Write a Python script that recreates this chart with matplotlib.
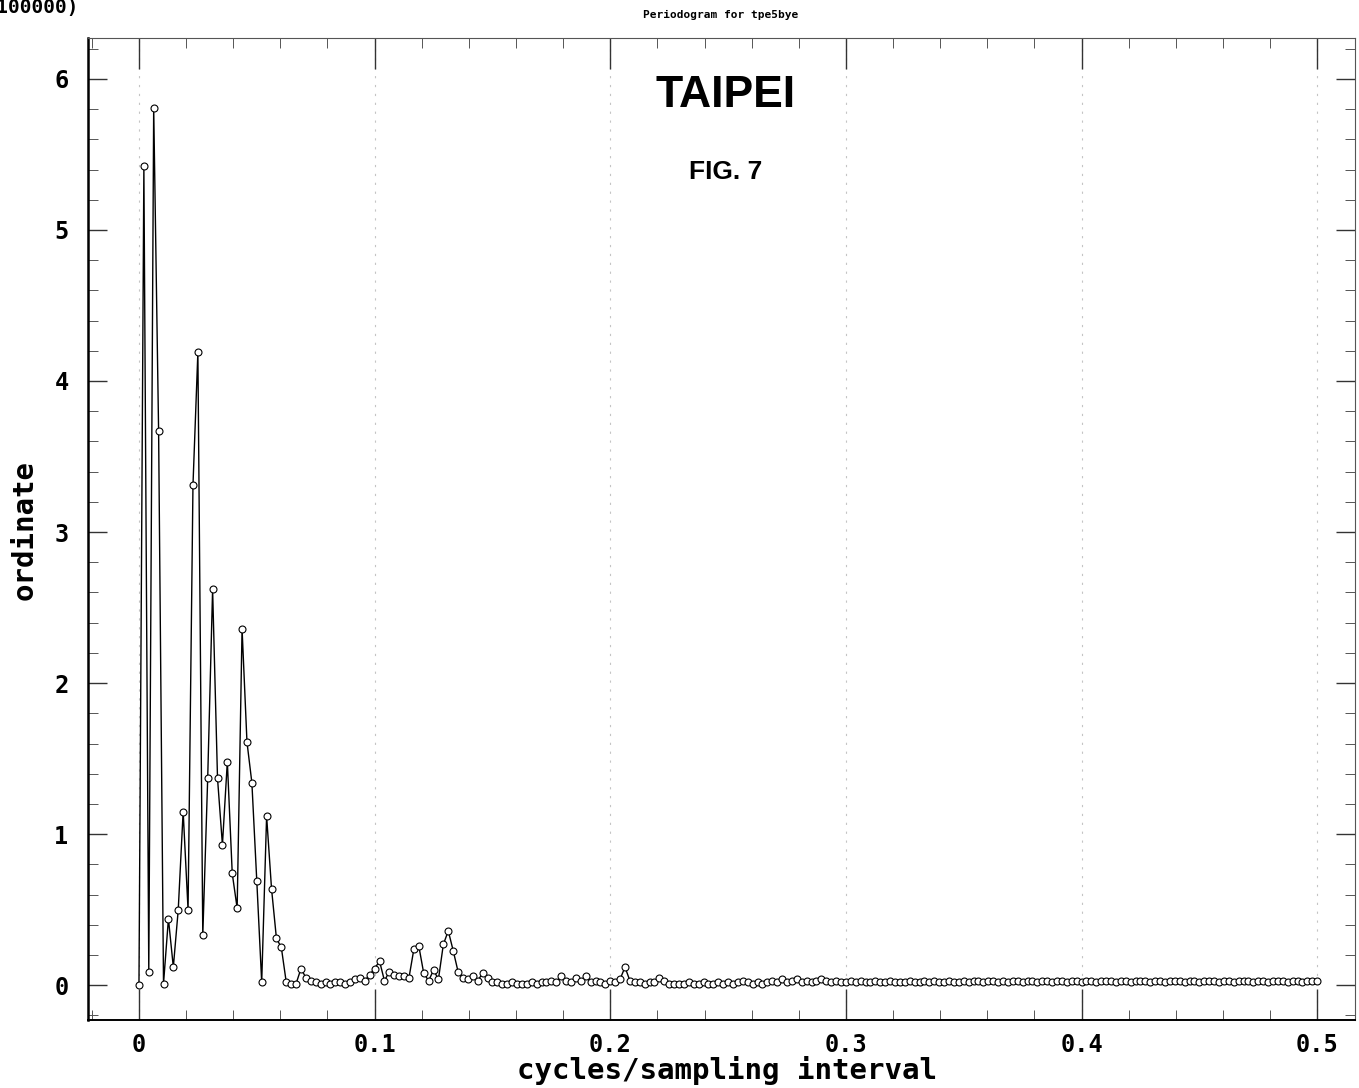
import numpy as np
import matplotlib
matplotlib.use("Agg")
import matplotlib.pyplot as plt
from matplotlib.ticker import MultipleLocator

# periodogram ordinates (x 10000), frequencies k/480, k = 0..240
n_obs = 480
ordinate = [
    0.00, 5.42, 0.09, 5.81, 3.67, 0.01, 0.44, 0.12, 0.50, 1.15,
    0.50, 3.31, 4.19, 0.33, 1.37, 2.62, 1.37, 0.93, 1.48, 0.74,
    0.51, 2.36, 1.61, 1.34, 0.69, 0.02, 1.12, 0.64, 0.31, 0.25,
    0.02,
    0.01, 0.01, 0.11, 0.05, 0.03, 0.02, 0.01, 0.02, 0.01, 0.02,
    0.02, 0.01, 0.02, 0.04, 0.05, 0.03, 0.07, 0.11, 0.16, 0.03,
    0.09, 0.07, 0.06, 0.06, 0.05, 0.24, 0.26, 0.08, 0.03, 0.10,
    0.04, 0.27, 0.36, 0.23, 0.09, 0.05, 0.04, 0.06, 0.03, 0.08,
    0.05, 0.02, 0.02, 0.01, 0.01, 0.02, 0.01, 0.01, 0.01, 0.02,
    0.01, 0.02, 0.02, 0.03, 0.02, 0.06, 0.03, 0.02, 0.05, 0.03,
    0.06, 0.02, 0.03, 0.02, 0.01, 0.03, 0.02, 0.04, 0.12, 0.03,
    0.02, 0.02, 0.01, 0.02, 0.02, 0.05, 0.03, 0.01, 0.01, 0.01,
    0.01, 0.02, 0.01, 0.01, 0.02, 0.01, 0.01, 0.02, 0.01, 0.02,
    0.01, 0.02, 0.03, 0.02, 0.01, 0.02, 0.01, 0.02, 0.03, 0.02,
    0.04, 0.02, 0.03, 0.04, 0.02, 0.03, 0.02, 0.03, 0.04, 0.03,
    0.02, 0.03, 0.02, 0.02, 0.03, 0.02, 0.03, 0.02, 0.02, 0.03,
    0.02, 0.02, 0.03, 0.02, 0.02, 0.02, 0.03, 0.02, 0.02, 0.03,
    0.02, 0.03, 0.02, 0.02, 0.03, 0.02, 0.02, 0.03, 0.02, 0.03,
    0.03, 0.02, 0.03, 0.03, 0.02, 0.03, 0.02, 0.03, 0.03, 0.02,
    0.03, 0.03, 0.02, 0.03, 0.03, 0.02, 0.03, 0.03, 0.02, 0.03,
    0.03, 0.02, 0.03, 0.03, 0.02, 0.03, 0.03, 0.03, 0.02, 0.03,
    0.03, 0.02, 0.03, 0.03, 0.03, 0.02, 0.03, 0.03, 0.02, 0.03,
    0.03, 0.03, 0.02, 0.03, 0.03, 0.02, 0.03, 0.03, 0.03, 0.02,
    0.03, 0.03, 0.02, 0.03, 0.03, 0.03, 0.02, 0.03, 0.03, 0.02,
    0.03, 0.03, 0.03, 0.02, 0.03, 0.03, 0.02, 0.03, 0.03, 0.03,
]
freq = np.arange(len(ordinate)) / n_obs

x_ticks = [0, 0.1, 0.2, 0.3, 0.4, 0.5]
x_ticklabels = ["0", "0.1", "0.2", "0.3", "0.4", "0.5"]
y_ticks = [0, 1, 2, 3, 4, 5, 6]

mono = "DejaVu Sans Mono"

fig = plt.figure(figsize=(13.59, 10.88), dpi=100)
ax = fig.add_axes([0.0648, 0.0625, 0.9322, 0.9025])

ax.plot(freq, ordinate, color="black", linewidth=1.0, marker="o",
        markersize=5, markerfacecolor="white", markeredgecolor="black",
        markeredgewidth=0.8)

ax.set_xlim(-0.0216, 0.516)
ax.set_ylim(-0.23, 6.27)

ax.set_xticks(x_ticks)
ax.set_xticklabels(x_ticklabels)
ax.set_yticks(y_ticks)
ax.xaxis.set_minor_locator(MultipleLocator(0.02))
ax.yaxis.set_minor_locator(MultipleLocator(0.2))

ax.tick_params(axis="both", which="major", direction="in", top=True, right=True,
               length=14, width=1.0, color="#333333", labelsize=17, pad=14)
ax.tick_params(axis="both", which="minor", direction="in", top=True, right=True,
               length=7, width=0.7, color="#555555")
ax.tick_params(axis="x", which="major", length=22, pad=9)
for lab in ax.get_xticklabels() + ax.get_yticklabels():
    lab.set_family(mono)
    lab.set_fontweight("bold")

ax.grid(axis="x", which="major", color="#c4c4c4", linestyle=(0, (2, 6)), linewidth=0.8)

for side in ["top", "right"]:
    ax.spines[side].set_color("#555555")
    ax.spines[side].set_linewidth(0.8)
ax.spines["left"].set_linewidth(1.8)
ax.spines["bottom"].set_linewidth(1.4)

fig.text(0.535, 0.0165, "cycles/sampling interval", family=mono, fontsize=21,
         fontweight="bold", ha="center", va="center")
fig.text(0.018, 0.513, "ordinate", family=mono, fontsize=21, fontweight="bold",
         rotation=90, ha="center", va="center")
fig.text(0.058, 0.993, "(x 100000)", family=mono, fontsize=14, fontweight="bold",
         ha="right", va="center")
fig.text(0.53, 0.986, "Periodogram for tpe5bye", family=mono, fontsize=8,
         fontweight="bold", ha="center", va="center")

ax.text(0.503, 0.942, "TAIPEI", transform=ax.transAxes, family="Liberation Sans",
        fontsize=32, fontweight="bold", ha="center", va="center")
ax.text(0.503, 0.8635, "FIG. 7", transform=ax.transAxes, family="Liberation Sans",
        fontsize=19, fontweight="bold", ha="center", va="center")

fig.savefig("out.png", dpi=100, facecolor="white")
